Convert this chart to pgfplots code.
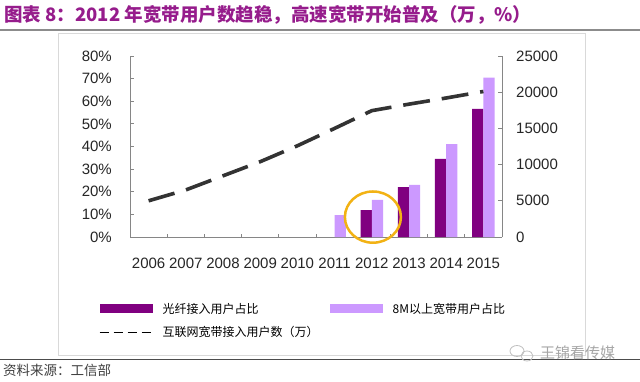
\documentclass[border=0pt]{standalone}
\usepackage{fontspec}
\setmainfont{Liberation Sans}
\newfontfamily\cjk{Noto Sans CJK SC}
\usepackage{pgfplots}
\pgfplotsset{compat=1.18}
\definecolor{darkp}{RGB}{128,0,128}
\definecolor{lightp}{RGB}{204,153,255}
\definecolor{titlec}{RGB}{150,28,140}
\definecolor{circ}{RGB}{242,178,20}
\definecolor{axisc}{RGB}{134,134,134}
\begin{document}
\begin{tikzpicture}
\useasboundingbox[fill=white] (0,0) rectangle (640pt,381pt);
\node[anchor=west, inner sep=0pt, text=titlec, font=\cjk\bfseries\fontsize{18.5}{20}\selectfont] at (4pt,366pt) {图表 8：2012 年宽带用户数趋稳，高速宽带开始普及（万，\%）};
\draw[black!45, line width=1.5pt] (0pt,351pt) -- (640pt,351pt);
\draw[black!15, line width=0.8pt] (58pt,348pt) rectangle (585pt,26pt);
\draw[black!70, line width=1pt] (0pt,22pt) -- (640pt,22pt);
\node[anchor=west, inner sep=0pt, text=black!75, font=\cjk\fontsize{13.5}{14}\selectfont] at (3pt,11pt) {资料来源：工信部};
\draw[black!25, line width=0.8pt] (517pt,30pt) ellipse [x radius=7pt, y radius=5.5pt];
\draw[black!25, line width=0.8pt] (527pt,25pt) ellipse [x radius=6pt, y radius=5pt];
\node[anchor=west, inner sep=0pt, text=black!35, font=\cjk\fontsize{15}{16}\selectfont] at (540pt,28pt) {王锦看传媒};

\begin{axis}[
  at={(130pt,144pt)}, anchor=south west,
  scale only axis, width=372pt, height=181pt,
  xmin=-0.5, xmax=9.5, ymin=0, ymax=80,
  axis y line*=left, axis x line*=bottom,
  axis line style={-, draw=axisc, line width=0.9pt},
  ybar=0pt, bar width=11.2pt,
  xtick={0,...,9},
  xticklabels={2006,2007,2008,2009,2010,2011,2012,2013,2014,2015},
  major x tick style={draw=none},
  minor xtick={0.5,1.5,...,8.5},
  minor x tick style={draw=axisc, line width=0.8pt},
  ytick={0,10,...,80},
  yticklabel={\pgfmathprintnumber{\tick}\%},
  tick align=inside,
  major tick length=3.5pt, minor tick length=3.5pt,
  y tick style={draw=axisc, line width=0.8pt},
  tick label style={font=\fontsize{15}{15}\selectfont, text=black!85},
  /pgf/number format/assume math mode=true,
  xticklabel style={anchor=north, inner sep=0pt, yshift=-21pt},
  yticklabel style={anchor=east, inner sep=0pt, xshift=-18pt},
  clip=false,
  legend columns=2,
  legend cell align=left,
  legend style={at={(axis description cs:-0.0833,-0.3646)}, anchor=north west, draw=none, fill=none, inner sep=0pt, outer sep=0pt, row sep=12pt, font=\cjk\fontsize{12}{12}\selectfont, nodes={inner sep=0pt}, /tikz/every odd column/.append style={column sep=10pt}, /tikz/every even column/.append style={column sep=11pt}},
]
\addplot[fill=darkp, draw=none, legend image code/.code={\fill[darkp] (0pt,-4.5pt) rectangle (53pt,4.5pt);}] coordinates {(6,11.9) (7,22.0) (8,34.5) (9,56.6)};
\addlegendentry{光纤接入用户占比}
\addplot[fill=lightp, draw=none, legend image code/.code={\fill[lightp] (0pt,-4.5pt) rectangle (53pt,4.5pt);}] coordinates {(5,9.7) (6,16.4) (7,23.0) (8,41.1) (9,70.4)};
\addlegendentry{8M以上宽带用户占比}
\addlegendimage{legend image code/.code={\draw[black, line width=1.2pt, dash pattern=on 9pt off 5pt] (0pt,0pt) -- (51pt,0pt);}}
\addlegendentry{互联网宽带接入用户数（万）}
\draw[circ, line width=2.5pt] (axis cs:6.03,8.8) ellipse [x radius=28pt, y radius=25.6pt];
\end{axis}

\begin{axis}[
  at={(130pt,144pt)}, anchor=south west,
  scale only axis, width=372pt, height=181pt,
  xmin=-0.5, xmax=9.5, ymin=0, ymax=25000,
  axis y line*=right, axis x line=none,
  axis line style={-, draw=axisc, line width=0.9pt},
  ytick={0,5000,...,25000},
  scaled y ticks=false,
  tick align=inside, major tick length=3.5pt,
  y tick style={draw=axisc, line width=0.8pt},
  tick label style={font=\fontsize{15}{15}\selectfont, text=black!85},
  /pgf/number format/assume math mode=true,
  /pgf/number format/1000 sep={},
  yticklabel style={anchor=west, inner sep=0pt, xshift=14pt},
]
\addplot[draw=black!80, line width=3.6pt, dash pattern=on 27pt off 12pt] coordinates {(0,5000) (1,6500) (2,8450) (3,10400) (4,12600) (5,15000) (6,17450) (7,18350) (8,19200) (9,20100)};
\end{axis}
\end{tikzpicture}
\end{document}
